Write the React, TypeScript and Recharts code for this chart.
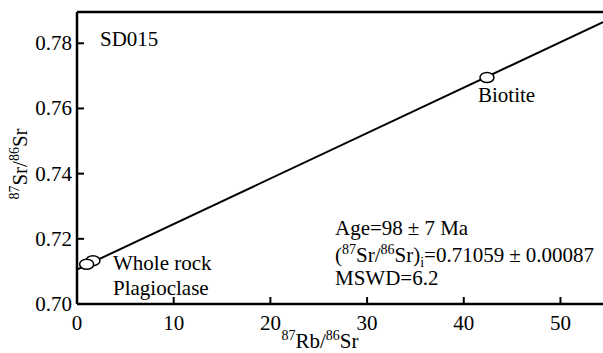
import React from "react";
import {
  ComposedChart,
  XAxis,
  YAxis,
  Line,
  Scatter,
  ReferenceLine,
} from "recharts";

// sample points
const samples = [
  { name: "Plagioclase", x: 1.65, y: 0.7133 },
  { name: "Whole rock", x: 1.0, y: 0.7122 },
  { name: "Biotite", x: 42.4, y: 0.7695 },
];

// regression line ends
const isochron = [
  { x: 0, y: 0.71059 },
  { x: 54.4, y: 0.7865 },
];

const xTicks = [0, 10, 20, 30, 40, 50];
const yTicks = [0.7, 0.72, 0.74, 0.76, 0.78];
const xMax = 54.4;
const yMin = 0.7;
const yMax = 0.7896;

const FONT = '"Liberation Serif", "Times New Roman", serif';
const txt: React.CSSProperties = { fontFamily: FONT, fontSize: 21, fill: "#000" };

const Ellipse = (props: any) => (
  <ellipse
    cx={props.cx}
    cy={props.cy}
    rx={7}
    ry={5}
    fill="#fff"
    stroke="#000"
    strokeWidth={1.5}
  />
);

const YTick = (props: any) => {
  const { x, y, payload } = props;
  return (
    <g>
      <line x1={x} x2={x + 7} y1={y} y2={y} stroke="#000" strokeWidth={2} />
      <text x={x - 5} y={y + 7} textAnchor="end" style={txt}>
        {payload.value.toFixed(2)}
      </text>
    </g>
  );
};

const XTick = (props: any) => {
  const { x, y, payload } = props;
  return (
    <g>
      <line x1={x} x2={x} y1={y} y2={y - 7} stroke="#000" strokeWidth={2} />
      <text x={x} y={y + 26} textAnchor="middle" style={txt}>
        {payload.value}
      </text>
    </g>
  );
};

// superscript then back to baseline
const Sup = ({ s, next }: { s: string; next: string }) => (
  <>
    <tspan dy={-8} style={{ fontSize: 14 }}>{s}</tspan>
    <tspan dy={8}>{next}</tspan>
  </>
);

export default function App() {
  return (
    <div style={{ position: "absolute", left: 0, top: 0, background: "#fff" }}>
      <ComposedChart
        width={603}
        height={353}
        margin={{ top: 12, right: 0, bottom: 0, left: 0 }}
      >
        <XAxis
          dataKey="x"
          type="number"
          domain={[0, xMax]}
          ticks={xTicks}
          allowDataOverflow
          height={49}
          tickSize={0}
          tickMargin={0}
          tick={<XTick />}
          axisLine={{ stroke: "#000", strokeWidth: 2.5 }}
        />
        <YAxis
          dataKey="y"
          type="number"
          domain={[yMin, yMax]}
          ticks={yTicks}
          allowDataOverflow
          width={77}
          tickSize={0}
          tickMargin={0}
          tick={<YTick />}
          axisLine={{ stroke: "#000", strokeWidth: 2.5 }}
        />
        <ReferenceLine y={yMax} stroke="#000" strokeWidth={2.5} />
        <Line
          data={isochron}
          dataKey="y"
          stroke="#000"
          strokeWidth={2}
          dot={false}
          isAnimationActive={false}
        />
        <Scatter
          data={samples}
          dataKey="y"
          shape={<Ellipse />}
          isAnimationActive={false}
        />
        <text x={100} y={46} style={txt}>SD015</text>
        <text x={478} y={102} style={txt}>Biotite</text>
        <text x={113} y={270} style={txt}>Whole rock</text>
        <text x={113} y={295} style={txt}>Plagioclase</text>
        <text x={335} y={235} style={txt}>
          Age=98<tspan dx={5}>±</tspan>
          <tspan dx={5}>7 Ma</tspan>
        </text>
        <text x={335} y={262} style={txt}>
          (<Sup s="87" next="Sr/" />
          <Sup s="86" next="Sr)" />
          <tspan dy={5} style={{ fontSize: 14 }}>i</tspan>
          <tspan dy={-5}>=0.71059</tspan>
          <tspan dx={5}>±</tspan>
          <tspan dx={5}>0.00087</tspan>
        </text>
        <text x={335} y={285} style={txt}>MSWD=6.2</text>
        <text x={320} y={348} textAnchor="middle" style={txt}>
          <Sup s="87" next="Rb/" />
          <Sup s="86" next="Sr" />
        </text>
        <text
          x={27}
          y={164}
          textAnchor="middle"
          transform="rotate(-90 27 164)"
          style={txt}
        >
          <Sup s="87" next="Sr/" />
          <Sup s="86" next="Sr" />
        </text>
      </ComposedChart>
    </div>
  );
}
